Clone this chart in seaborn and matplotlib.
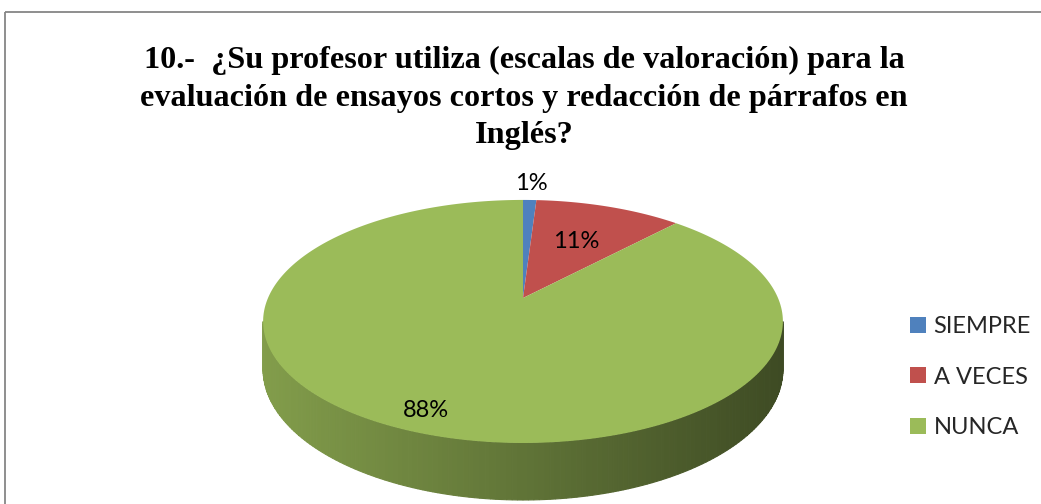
import numpy as np
import matplotlib
matplotlib.use("Agg")
import matplotlib.pyplot as plt
import seaborn as sns
from matplotlib.transforms import Transform, Affine2D
from matplotlib.path import Path
from matplotlib.patches import Rectangle

# Datos
categorias = ["SIEMPRE", "A VECES", "NUNCA"]
porcentajes = [1, 11, 88]
colores = ["#4f81bd", "#c0504d", "#9bbb59"]
titulo = ("10.-  ¿Su profesor utiliza (escalas de valoración) para la\n"
          "evaluación de ensayos cortos y redacción de párrafos en\n"
          "Inglés?")

sns.set_theme(style="white")
plt.rcParams["font.family"] = ["Lato", "DejaVu Sans"]

# --- geometría del pastel en 3D (píxeles) ---
CX, CY = 523, 298          # vértice del pastel
K = 0.193                  # perspectiva
A, B = 255.0, 117.0        # semiejes proyectados
PROF = 46.0                # grosor del pastel


def proyectar(u, v):
    d = 1 + K * v
    return CX + A * u / d, CY - B * v / d


class Inclinacion(Transform):
    input_dims = output_dims = 2

    def transform_non_affine(self, pts):
        pts = np.asarray(pts, float)
        x, y = proyectar(pts[:, 0], pts[:, 1])
        return np.column_stack([x, y])

    def transform_path_non_affine(self, path):
        polys = path.to_polygons(Affine2D().scale(3000), closed_only=False)
        verts = np.vstack([p / 3000.0 for p in polys])
        return Path(self.transform_non_affine(verts))


fig = plt.figure(figsize=(10.41, 5.04), dpi=100)
ax = fig.add_axes([0, 0, 1, 1])

paleta = sns.color_palette(colores)
cunas, _ = ax.pie(porcentajes, colors=paleta, startangle=90, counterclock=False,
                  wedgeprops=dict(linewidth=0))

ax.set_aspect("auto")
ax.set_xlim(0, 1041)
ax.set_ylim(504, 0)
ax.axis("off")

incl = Inclinacion()
for w in cunas:
    w.set_transform(incl + ax.transData)
    w.set_zorder(3)


def color_en(ang):
    for w in cunas:
        if (ang - w.theta1) % 360 <= (w.theta2 - w.theta1):
            return np.array(w.get_facecolor()[:3])
    return np.array(cunas[-1].get_facecolor()[:3])


# --- pared lateral con degradado ---
t_izq = np.pi + np.arcsin(K)
t_der = 2 * np.pi - np.arcsin(K)
bordes = np.linspace(t_izq, t_der, 161)
x_izq, _ = proyectar(np.cos(t_izq), np.sin(t_izq))
x_der, _ = proyectar(np.cos(t_der), np.sin(t_der))
for t0, t1 in zip(bordes[:-1], bordes[1:]):
    ts = np.linspace(t0, t1, 4)
    u, v = np.cos(ts), np.sin(ts)
    xs, ys = proyectar(u, v)
    yb = ys + PROF / (1 + K * v)
    xm = xs.mean()
    f = 0.84 - 0.44 * (xm - x_izq) / (x_der - x_izq)
    c = np.clip(color_en(np.degrees(ts.mean())) * f, 0, 1)
    ax.fill(np.r_[xs, xs[::-1]], np.r_[ys, yb[::-1]], color=c,
            lw=0.8, ec=c, zorder=2)

# --- etiquetas de porcentaje ---
distancias = [1.21, 0.58, 0.87]
for w, p, r in zip(cunas, porcentajes, distancias):
    ang = np.radians((w.theta1 + w.theta2) / 2)
    x, y = proyectar(r * np.cos(ang), r * np.sin(ang))
    ax.text(x, y, f"{p}%", ha="center", va="center", fontsize=17,
            color="black", zorder=5)

# --- título ---
ax.text(524, 98, titulo, ha="center", va="center", fontsize=23.2,
        family="Liberation Serif", fontweight="bold", linespacing=1.38,
        color="black")

# --- leyenda (parches simples) ---
marcas = [Rectangle((0, 0), 1, 1, fc=c, lw=0) for c in paleta]
ax.legend(marcas, categorias, loc="center left",
          bbox_to_anchor=(910 / 1041, 1 - 377 / 504),
          bbox_transform=fig.transFigure, frameon=False, fontsize=17,
          handlelength=0.68, handleheight=0.68, handletextpad=0.32,
          labelspacing=1.25, borderpad=0, borderaxespad=0)

# --- marco ---
ax.add_patch(Rectangle((5, 12), 1100, 600, fill=False, ec="#868686",
                       lw=1.3, zorder=10))

fig.savefig("out.png", dpi=100, facecolor="white")
